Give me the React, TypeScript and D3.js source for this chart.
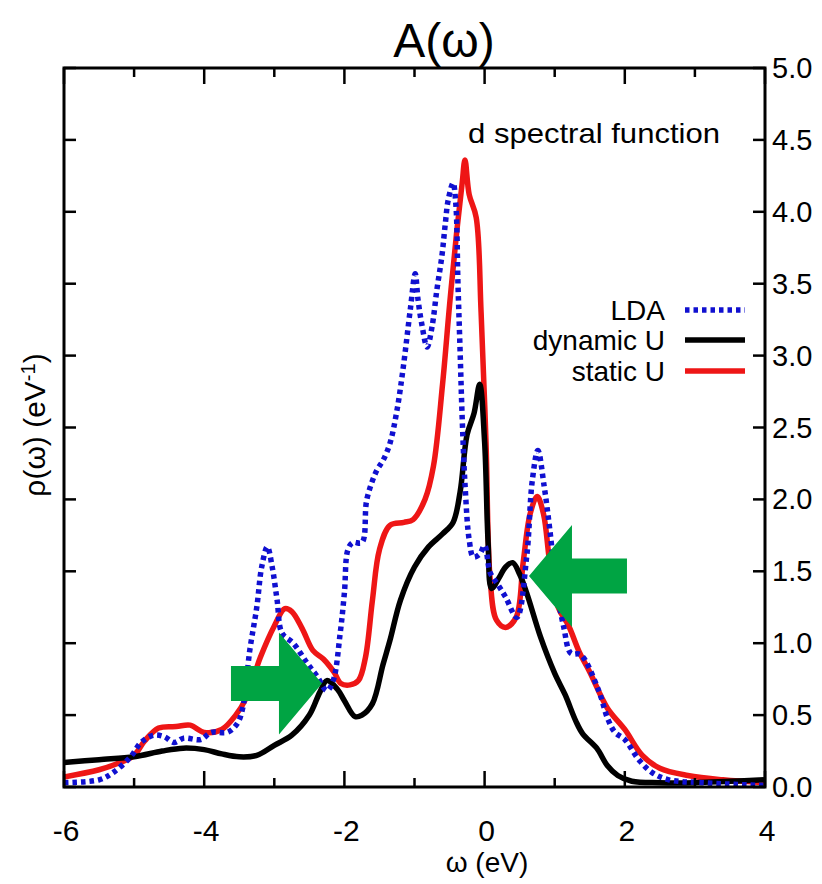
import React from "react";
import * as d3 from "d3";

// energies (eV) and spectral weights
const ldaX = [-6, -5.5, -5.3, -5.05, -4.9, -4.72, -4.57, -4.43, -4.29, -4.05, -3.9, -3.67, -3.53, -3.45, -3.35, -3.25, -3.18, -3.1, -3.03, -2.96, -2.89, -2.73, -2.53, -2.39, -2.25, -2.16, -2.06, -2.0, -1.95, -1.88, -1.75, -1.68, -1.54, -1.45, -1.35, -1.25, -1.16, -1.06, -0.99, -0.95, -0.9, -0.82, -0.75, -0.68, -0.61, -0.56, -0.52, -0.45, -0.41, -0.38, -0.35, -0.32, -0.28, -0.22, -0.16, -0.07, 0.0, 0.08, 0.2, 0.3, 0.46, 0.6, 0.68, 0.76, 0.85, 0.93, 1.03, 1.13, 1.23, 1.37, 1.62, 1.76, 1.86, 2.0, 2.2, 2.39, 2.63, 3.1, 4];
const ldaY = [0.03, 0.05, 0.1, 0.21, 0.31, 0.36, 0.35, 0.31, 0.34, 0.33, 0.38, 0.38, 0.44, 0.55, 0.95, 1.25, 1.53, 1.67, 1.53, 1.3, 1.07, 1.0, 0.86, 0.77, 0.67, 0.74, 1.07, 1.35, 1.65, 1.7, 1.7, 2.0, 2.2, 2.27, 2.39, 2.62, 2.92, 3.32, 3.57, 3.39, 3.23, 3.06, 3.2, 3.46, 3.69, 3.92, 4.08, 4.2, 4.05, 3.5, 3.04, 2.57, 2.11, 1.72, 1.6, 1.62, 1.68, 1.49, 1.4, 1.32, 1.18, 1.6, 2.13, 2.34, 2.09, 1.79, 1.37, 1.11, 0.93, 0.92, 0.68, 0.47, 0.38, 0.33, 0.19, 0.1, 0.05, 0.03, 0.01];

const dynX = [-6, -5.5, -5, -4.6, -4.3, -4, -3.75, -3.5, -3.25, -3, -2.75, -2.5, -2.35, -2.25, -2.1, -2.0, -1.85, -1.75, -1.6, -1.45, -1.35, -1.2, -1.0, -0.8, -0.6, -0.45, -0.35, -0.25, -0.15, -0.07, 0.0, 0.05, 0.1, 0.2, 0.3, 0.4, 0.5, 0.6, 0.8, 1.0, 1.15, 1.3, 1.4, 1.6, 1.75, 1.9, 2.1, 2.5, 3, 3.5, 4];
const dynY = [0.17, 0.19, 0.21, 0.25, 0.27, 0.26, 0.23, 0.21, 0.22, 0.29, 0.36, 0.5, 0.66, 0.74, 0.68, 0.6, 0.49, 0.5, 0.58, 0.85, 1.02, 1.3, 1.53, 1.67, 1.76, 1.84, 2.05, 2.45, 2.6, 2.8, 2.4, 1.7, 1.38, 1.45, 1.53, 1.56, 1.48, 1.35, 1.04, 0.79, 0.64, 0.46, 0.37, 0.27, 0.15, 0.08, 0.04, 0.03, 0.03, 0.04, 0.05];

const statX = [-6, -5.5, -5.2, -5.0, -4.85, -4.65, -4.4, -4.2, -4.0, -3.75, -3.55, -3.4, -3.2, -3.0, -2.85, -2.75, -2.6, -2.45, -2.3, -2.15, -2.05, -1.92, -1.8, -1.7, -1.6, -1.5, -1.35, -1.15, -1.02, -0.85, -0.73, -0.6, -0.5, -0.4, -0.32, -0.28, -0.22, -0.12, -0.05, 0.02, 0.08, 0.17, 0.3, 0.45, 0.55, 0.65, 0.75, 0.84, 0.93, 1.05, 1.2, 1.35, 1.5, 1.75, 2.0, 2.25, 2.5, 2.9, 3.4, 4];
const statY = [0.07, 0.12, 0.17, 0.22, 0.32, 0.41, 0.42, 0.43, 0.38, 0.4, 0.5, 0.62, 0.9, 1.12, 1.24, 1.22, 1.1, 0.95, 0.89, 0.8, 0.72, 0.71, 0.74, 0.9, 1.3, 1.65, 1.82, 1.84, 1.86, 2.0, 2.23, 2.8, 3.35, 3.85, 4.2, 4.36, 4.12, 3.96, 3.3, 2.4, 1.44, 1.16, 1.11, 1.18, 1.56, 1.9, 2.02, 1.9, 1.56, 1.25, 1.12, 0.94, 0.8, 0.55, 0.4, 0.22, 0.13, 0.08, 0.05, 0.03];

const seriesNames = ["LDA", "dynamic U", "static U"];
const xTicks = [-6, -4, -2, 0, 2, 4];
const xMinorTicks = [-5, -3, -1, 1, 3];
const yTicks = [0, 0.5, 1, 1.5, 2, 2.5, 3, 3.5, 4, 4.5, 5];

const FONT = "'Liberation Sans', Arial, Helvetica, sans-serif";
const W = 822, H = 884;
const M = { left: 64, right: 765, top: 68, bottom: 787 };

export default function App() {
  const x = d3.scaleLinear().domain([-6, 4]).range([M.left, M.right]);
  const y = d3.scaleLinear().domain([0, 5]).range([M.bottom, M.top]);
  const line = d3
    .line<[number, number]>()
    .x((d) => x(d[0]))
    .y((d) => y(d[1]))
    .curve(d3.curveCatmullRom.alpha(0.5));
  const zip = (a: number[], b: number[]) => a.map((v, i) => [v, b[i]] as [number, number]);

  const BLUE = "#1010d0";
  const RED = "#ee1616";
  const GREEN = "#00a443";

  // arrow annotations: tip in data space, shape in pixels
  const arrow = (tx: number, ty: number, dir: number, shaft: number) => {
    const px = x(tx), py = y(ty);
    const hl = 43, hh = 51, sh = 17.5;
    const pts: [number, number][] = [
      [px, py],
      [px - dir * hl, py - hh],
      [px - dir * hl, py - sh],
      [px - dir * (hl + shaft), py - sh],
      [px - dir * (hl + shaft), py + sh],
      [px - dir * hl, py + sh],
      [px - dir * hl, py + hh],
    ];
    return pts.map((p) => p.join(",")).join(" ");
  };

  const legendY = [310, 340, 371];
  const legendColors = [BLUE, "#000", RED];

  return (
    <svg width={W} height={H} style={{ position: "absolute", left: 0, top: 0, background: "#fff" }} fontFamily={FONT}>
      <rect x={0} y={0} width={W} height={H} fill="#fff" />
      <text x={444} y={57} textAnchor="middle" fontSize={48}>A(ω)</text>

      <defs>
        <clipPath id="plot">
          <rect x={M.left} y={M.top - 10} width={M.right - M.left} height={M.bottom - M.top + 10} />
        </clipPath>
      </defs>

      <g clipPath="url(#plot)" fill="none" strokeLinejoin="round">
        <path d={line(zip(statX, statY)) || ""} stroke={RED} strokeWidth={5.5} />
        <path d={line(zip(dynX, dynY)) || ""} stroke="#000" strokeWidth={5.5} />
        <path d={line(zip(ldaX, ldaY)) || ""} stroke={BLUE} strokeWidth={5.5} strokeDasharray="4.5,4" />
      </g>

      <polygon points={arrow(-2.32, 0.72, 1, 48)} fill={GREEN} />
      <polygon points={arrow(0.633, 1.467, -1, 55)} fill={GREEN} />

      {/* frame */}
      <rect x={M.left} y={M.top} width={M.right - M.left} height={M.bottom - M.top} fill="none" stroke="#000" strokeWidth={3} />

      {/* x ticks */}
      {xTicks.map((t) => (
        <g key={"xt" + t}>
          <line x1={x(t)} x2={x(t)} y1={M.bottom} y2={M.bottom - 16} stroke="#000" strokeWidth={2.5} />
          <line x1={x(t)} x2={x(t)} y1={M.top} y2={M.top + 16} stroke="#000" strokeWidth={2.5} />
          <text x={x(t) + 2} y={841} textAnchor="middle" fontSize={30}>{t}</text>
        </g>
      ))}
      {xMinorTicks.map((t) => (
        <g key={"xm" + t}>
          <line x1={x(t)} x2={x(t)} y1={M.bottom} y2={M.bottom - 9} stroke="#000" strokeWidth={2.5} />
          <line x1={x(t)} x2={x(t)} y1={M.top} y2={M.top + 9} stroke="#000" strokeWidth={2.5} />
        </g>
      ))}
      {yTicks.map((t) => (
        <g key={"yt" + t}>
          <line x1={M.left} x2={M.left + 12} y1={y(t)} y2={y(t)} stroke="#000" strokeWidth={2.5} />
          <line x1={M.right} x2={M.right - 12} y1={y(t)} y2={y(t)} stroke="#000" strokeWidth={2.5} />
          <text x={772} y={y(t) + 10} fontSize={29}>{t.toFixed(1)}</text>
        </g>
      ))}

      <text x={487} y={872} textAnchor="middle" fontSize={28}>ω (eV)</text>
      <text transform="translate(45,425) rotate(-90)" textAnchor="middle" fontSize={30}>
        ρ(ω) (eV<tspan dy={-10} fontSize={20}>-1</tspan><tspan dy={10}>)</tspan>
      </text>

      <text x={468} y={143} fontSize={28} textLength={252} lengthAdjust="spacingAndGlyphs">d spectral function</text>

      {seriesNames.map((n, i) => (
        <g key={n}>
          <text x={665} y={legendY[i] + 10} textAnchor="end" fontSize={28}>{n}</text>
          <line x1={685} x2={745} y1={legendY[i]} y2={legendY[i]} stroke={legendColors[i]} strokeWidth={5.5} strokeDasharray={i === 0 ? "4.5,4" : undefined} />
        </g>
      ))}
    </svg>
  );
}
